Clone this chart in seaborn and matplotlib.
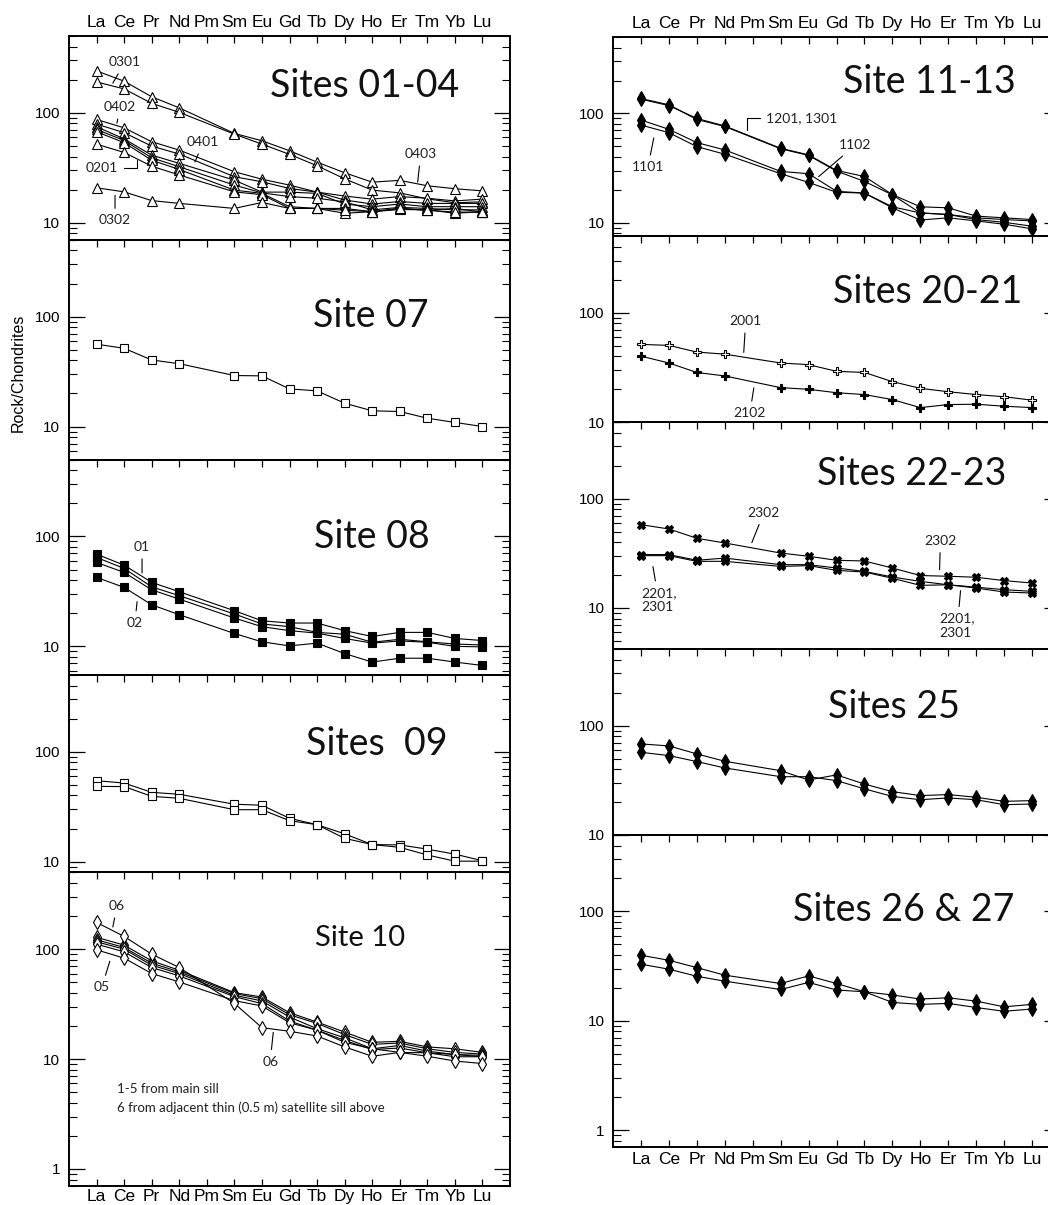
import numpy as np
import matplotlib
matplotlib.use("Agg")
import matplotlib.pyplot as plt
import seaborn as sns
from matplotlib.ticker import FixedLocator, LogLocator, FuncFormatter, NullFormatter

# REE order on the x axis (Pm not measured)
elements = ["La", "Ce", "Pr", "Nd", "Pm", "Sm", "Eu", "Gd", "Tb", "Dy", "Ho", "Er", "Tm", "Yb", "Lu"]
measured = ["La", "Ce", "Pr", "Nd", "Sm", "Eu", "Gd", "Tb", "Dy", "Ho", "Er", "Tm", "Yb", "Lu"]

# rock / chondrite values
sites_01_04 = {
    "0403": [241, 194, 140, 111, 65, 55.7, 45.2, 35.6, 28.5, 23.4, 24.3, 21.7, 20.4, 19.5],
    "0301": [191, 165, 122, 101, 64, 51.9, 41.9, 33, 25.1, 19.8, 18.7, 16.5, 15.2, 15.5],
    "0402": [87, 73, 54.6, 45.8, 29.1, 24.9, 22, 19, 17.5, 16.4, 17.3, 16.7, 15.8, 16.4],
    "0401": [79, 66, 49.8, 42.2, 26.2, 23.6, 20.5, 19, 16.1, 14.8, 15.6, 15, 15, 15],
    "s5": [74.6, 58, 41.2, 34.7, 24.4, 19, 19, 18.5, 14.8, 14, 14.8, 14, 14, 14],
    "s6": [70.6, 56, 39, 32.3, 22, 18.7, 17.3, 16.7, 15.5, 13.1, 13.8, 13.5, 13.1, 13.1],
    "s7": [67.3, 53.5, 37.1, 30.5, 19.8, 18.5, 14, 13.5, 12.2, 12.6, 13.2, 13.1, 12.2, 12.6],
    "0201": [51.9, 43.6, 32.7, 27.2, 19.1, 18, 13.5, 13.5, 13.5, 12.6, 13.5, 13, 13.5, 12.5],
    "0302": [20.8, 19.1, 15.9, 15, 13.5, 15.3, 13.5, 13.5, 13, 12.6, 13.5, 13, 12.5, 12.5],
}
site_07 = {
    "0701": [56.1, 51.5, 40.3, 37.3, 29.1, 28.9, 22, 21.1, 16.3, 13.9, 13.7, 11.9, 10.9, 10.0],
}
site_08 = {
    "01": [69, 54.8, 38.2, 31.4, 21.1, 17.1, 16.3, 16.3, 13.9, 12.3, 13.4, 13.4, 11.8, 11.3],
    "03": [64.4, 51.2, 34.8, 28.9, 19.7, 16, 15.1, 13.4, 12.9, 10.9, 11.6, 11, 10.5, 10.3],
    "04": [58, 47.1, 32.7, 26.9, 18.1, 15.1, 13.9, 13.2, 11.8, 10.7, 11.2, 10.9, 10, 9.9],
    "02": [42.4, 34.4, 23.9, 19.4, 13.1, 11, 10.1, 10.7, 8.6, 7.2, 7.8, 7.8, 7.2, 6.7],
}
sites_09 = {
    "a": [54.5, 51.9, 42.7, 41, 33.3, 32.6, 24.8, 21.7, 17.9, 14.3, 14.2, 13, 11.7, 10.2],
    "b": [48.4, 48.2, 39.3, 37.7, 29.7, 29.7, 23.6, 21.7, 16.3, 14.3, 13.5, 11.5, 10.1, 10.1],
}
site_10 = {
    "01": [128, 108.8, 78.2, 64.3, 40.2, 36.7, 26.4, 21.7, 17.6, 14.2, 14.5, 12.9, 12.4, 11.5],
    "02": [121.7, 103.6, 74.5, 62.1, 39.4, 35.4, 25.3, 21.1, 16.7, 13.6, 14, 12.4, 11.5, 11.1],
    "03": [116.7, 100, 71.4, 60, 38, 33.8, 24.1, 18.9, 15.6, 12.4, 13.3, 11.8, 11, 10.8],
    "04": [111, 94.5, 68, 57.1, 37, 31.9, 22.2, 18.3, 14.8, 12.2, 12.6, 11.4, 10.5, 10.5],
    "05": [98.6, 82.8, 60, 50.3, 34, 30.4, 21.4, 18.3, 14.2, 12.4, 11.5, 11.4, 11, 10.5],
    "06": [175, 130.5, 90, 68, 32.1, 19.3, 17.9, 16.2, 12.9, 10.6, 11.5, 10.6, 9.6, 9.1],
}
site_11_13 = {
    "1201": [135, 118, 90, 76.8, 48, 41.8, 30.1, 26.5, 18.1, 14, 13.7, 11.5, 11.1, 10.7],
    "1301": [137, 120, 88, 76, 47.5, 41.3, 29.7, 23.9, 18, 12.3, 11.9, 11.1, 10.7, 10.4],
    "1102": [87, 71.6, 54.1, 46.4, 29.5, 28.1, 19.4, 18.7, 14, 12.3, 11.9, 10.7, 10.1, 9.3],
    "1101": [78.3, 66.7, 49.7, 42.4, 28.1, 23.4, 19, 18.7, 13.7, 10.6, 11.1, 10.4, 9.7, 8.8],
}
sites_20_21 = {
    "2001": [51.5, 50.4, 43.8, 41.9, 34.8, 33.6, 29.2, 28.5, 23.5, 20.4, 19, 17.9, 17.1, 15.9],
    "2102": [40.2, 34.8, 28.5, 26.5, 20.7, 20, 18.6, 17.9, 16.1, 13.6, 14.5, 14.6, 14, 13.6],
}
sites_22_23 = {
    "2302": [57.8, 52.8, 43.4, 39.3, 31.8, 29.7, 27.3, 26.9, 23.2, 19.8, 19.5, 19.1, 17.8, 16.9],
    "2201": [30.8, 30.8, 27.3, 28.6, 24.9, 24.9, 23.2, 21.6, 19.2, 17.5, 16.3, 15.5, 14.7, 14.2],
    "2301": [30.1, 30.1, 26.7, 26.7, 24, 24.4, 22.1, 21.3, 18.7, 16.1, 16.3, 15.2, 14, 13.7],
}
sites_25 = {
    "a": [68, 65.2, 55.1, 47.2, 38.7, 31.8, 35.4, 29.2, 24.9, 22.9, 23.4, 22.1, 20.3, 20.6],
    "b": [57, 53.2, 46.9, 41, 34.1, 34.1, 31.4, 26.4, 22.5, 21, 21.8, 21, 18.9, 19.2],
}
sites_26_27 = {
    "a": [39.7, 35.7, 30.6, 26.1, 21.9, 25.7, 21.9, 18.4, 17.2, 15.8, 16.2, 15.1, 13.4, 14.1],
    "b": [32.9, 29.6, 25.5, 23, 19.3, 22.4, 19.1, 18.4, 14.7, 14.1, 14.4, 13.2, 12.2, 12.8],
}

sns.set_style("ticks")
plt.rcParams["font.family"] = ["Liberation Sans", "DejaVu Sans"]
plt.rcParams["axes.linewidth"] = 1.4
plt.rcParams["text.color"] = "black"
plt.rcParams["xtick.color"] = "black"
plt.rcParams["ytick.color"] = "black"
plt.rcParams["xtick.labelcolor"] = "black"
plt.rcParams["ytick.labelcolor"] = "black"

W, H = 1048, 1205
fig = plt.figure(figsize=(W / 100, H / 100), dpi=100)
pos = [elements.index(e) for e in measured]

TITLE_FONT = dict(family=["Lato", "DejaVu Sans"], weight="normal", color="#111111")
NOTE_FONT = dict(family=["Lato", "DejaVu Sans"], weight="normal", color="#222222", fontsize=10)


def pannello(ax, campioni, marker, ms, piene, ylim, colonna_sx, primo, ultimo, pad_basso):
    for nome, valori in campioni.items():
        faccia = "black" if piene.get(nome, False) else "white"
        sns.lineplot(x=pos, y=valori, ax=ax, color="black", linewidth=0.8,
                     marker=marker, markersize=ms, markerfacecolor=faccia,
                     markeredgecolor="black", markeredgewidth=0.8, sort=False)
    ax.set_yscale("log")
    ax.set_xlim(-1, 15)
    ax.set_ylim(*ylim)
    ax.set_xlabel("")
    ax.set_ylabel("")
    ax.set_facecolor("none")
    ax.xaxis.set_major_locator(FixedLocator(range(len(elements))))
    ax.set_xticklabels(elements)
    ax.tick_params(axis="x", which="major", direction="in", length=5, width=0.9,
                   top=True, bottom=ultimo, labeltop=primo, labelbottom=ultimo,
                   labelsize=12.5, pad=4)
    if ultimo:
        ax.tick_params(axis="x", which="major", pad=pad_basso)
    ax.tick_params(axis="x", which="minor", top=False, bottom=False)
    ax.yaxis.set_major_locator(LogLocator(base=10, numticks=10))
    ax.yaxis.set_minor_locator(LogLocator(base=10, subs=np.arange(2, 10), numticks=10))
    ax.yaxis.set_major_formatter(FuncFormatter(lambda v, p: f"{v:g}"))
    ax.yaxis.set_minor_formatter(NullFormatter())
    ax.tick_params(axis="y", which="major", direction="in", length=11.5, width=0.9,
                   left=True, right=True, labelsize=11, pad=6.5 if colonna_sx else 6)
    ax.tick_params(axis="y", which="minor", direction="in", length=5.5, width=0.8,
                   left=True, right=colonna_sx)
    for s in ax.spines.values():
        s.set_color("black")


def nota(ax, testo, xytext, xy, ha="center", conn="arc3"):
    ax.annotate(testo, xy=xy, xytext=xytext, ha=ha, va="center", linespacing=1.25,
                arrowprops=dict(arrowstyle="-", lw=0.8, color="black", shrinkA=2,
                                shrinkB=0, connectionstyle=conn),
                **NOTE_FONT)


# layout: column pixel extents, panels stacked with a constant decade height
colonne = [
    dict(left=69, right=510, top=36, bottom=1186, pad_basso=2, panels=[
        (sites_01_04, "^", 6.5, {}, (7, 500), "Sites 01-04", 365, 96.7, 27),
        (site_07, "s", 5.5, {}, (5, 500), "Site 07", 371, 327.3, 27),
        (site_08, "s", 5.5, {k: True for k in site_08}, (5.5, 500), "Site 08", 372, 548.3, 27),
        (sites_09, "s", 5.5, {}, (8, 500), "Sites  09", 377, 755, 27),
        (site_10, "d", 7, {}, (0.7, 500), "Site 10", 360, 946, 21),
    ]),
    dict(left=613, right=1060, top=37, bottom=1147, pad_basso=3.5, panels=[
        (site_11_13, "d", 7, {k: True for k in site_11_13}, (7.5, 500), "Site 11-13", 929, 93.3, 27),
        (sites_20_21, "P", 6, {"2102": True}, (10, 500), "Sites 20-21", 928, 303.3, 27),
        (sites_22_23, "X", 5.5, {k: True for k in sites_22_23}, (4.2, 500), "Sites 22-23", 912, 485, 27),
        (sites_25, "d", 7, {k: True for k in sites_25}, (10, 500), "Sites 25", 894, 718.3, 27),
        (sites_26_27, "d", 7, {k: True for k in sites_26_27}, (0.7, 500), "Sites 26 & 27", 904, 920.7, 27),
    ]),
]

assi = []
for ci, col in enumerate(colonne):
    decadi = [np.log10(p[4][1] / p[4][0]) for p in col["panels"]]
    px_dec = (col["bottom"] - col["top"]) / sum(decadi)
    y = col["top"]
    lista = []
    for i, (dati, mk, ms, piene, ylim, titolo, tx, ty, tsize) in enumerate(col["panels"]):
        h = decadi[i] * px_dec
        ax = fig.add_axes([col["left"] / W, 1 - (y + h) / H,
                           (col["right"] - col["left"]) / W, h / H])
        pannello(ax, dati, mk, ms, piene, ylim, ci == 0, i == 0,
                 i == len(col["panels"]) - 1, col["pad_basso"])
        fig.text(tx / W, 1 - ty / H, titolo, ha="center", va="baseline",
                 fontsize=tsize, **TITLE_FONT)
        lista.append(ax)
        y += h
    assi.append(lista)

sx, dx = assi

# sample labels
nota(sx[0], "0301", (1.03, 289), (0.59, 186))
nota(sx[0], "0402", (0.85, 113), (0.74, 80.6))
nota(sx[0], "0401", (3.87, 54.2), (3.57, 35.7))
nota(sx[0], "0201", (0.19, 31.4), (1.47, 37.2), conn="angle,angleA=0,angleB=90,rad=0")
nota(sx[0], "0302", (0.67, 10.5), (0.67, 17.8))
nota(sx[0], "0403", (11.76, 42.2), (11.65, 23.4))

nota(sx[2], "01", (1.65, 80.4), (1.65, 46.6))
nota(sx[2], "02", (1.39, 16.4), (1.47, 25.5))

nota(sx[4], "06", (0.74, 247), (0.59, 159))
nota(sx[4], "05", (0.19, 45), (0.48, 77.6))
nota(sx[4], "06", (6.3, 9.5), (6.41, 17.5))
sx[4].text(0.74, 5.3, "1-5 from main sill", ha="left", va="center", **dict(NOTE_FONT, fontsize=9.5))
sx[4].text(0.74, 3.6, "6 from adjacent thin (0.5 m) satellite sill above", ha="left",
           va="center", **dict(NOTE_FONT, fontsize=9.5))

nota(dx[0], "1201, 1301", (4.47, 90.6), (3.79, 70.5), ha="left",
     conn="angle,angleA=0,angleB=90,rad=0")
nota(dx[0], "1102", (7.68, 51.5), (6.36, 26.4))
nota(dx[0], "1101", (0.25, 32.4), (0.46, 59.6))

nota(dx[1], "2001", (3.75, 84.3), (3.68, 43.5))
nota(dx[1], "2102", (3.9, 12.1), (4.04, 20.6))

nota(dx[2], "2302", (4.4, 74.5), (3.97, 39.6))
nota(dx[2], "2201,\n2301", (0.0, 11.8), (0.43, 23.9), ha="left")
nota(dx[2], "2302", (10.72, 41.3), (10.69, 22.4))
nota(dx[2], "2201,\n2301", (10.69, 6.87), (11.44, 14.4), ha="left")

fig.text(18 / W, 1 - 373 / H, "Rock/Chondrites", rotation=90, ha="center",
         va="center", fontsize=11.5)

fig.savefig("out.png", dpi=100, facecolor="white")
